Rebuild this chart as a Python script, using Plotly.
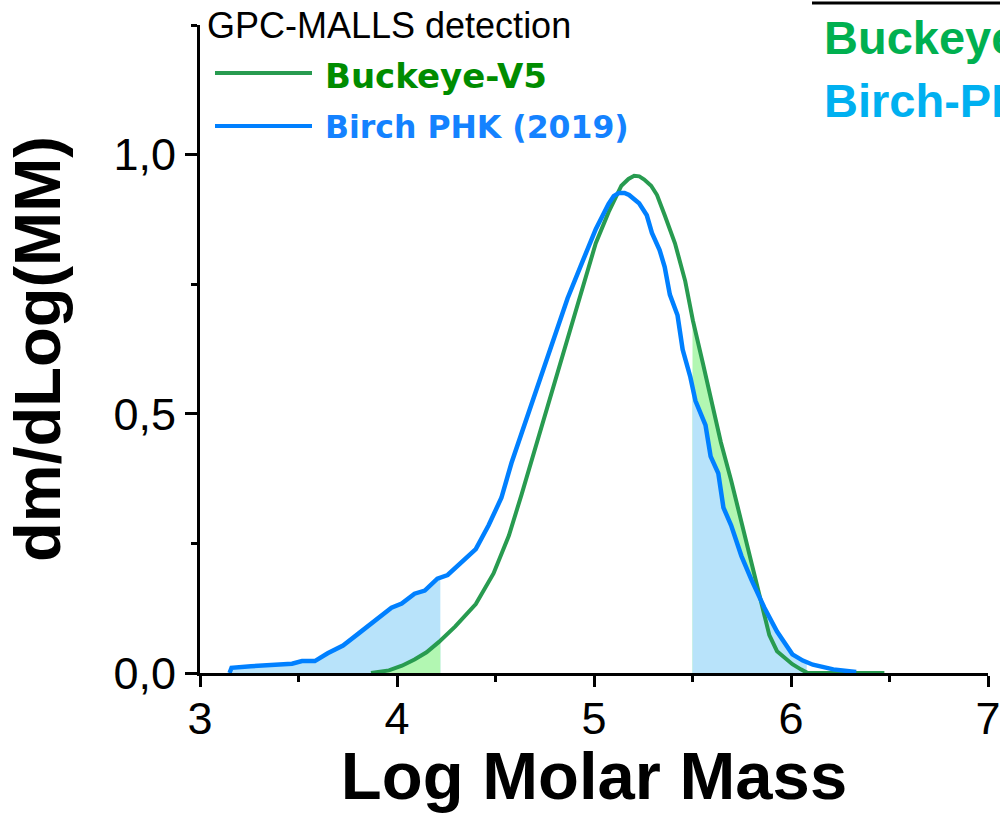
import numpy as np
import plotly.graph_objects as go

# ---------------- data ----------------
buckeye_x = [3.868, 3.959, 4.025, 4.089, 4.150, 4.213, 4.296, 4.40, 4.49, 4.568, 4.633, 4.711,
             4.815, 4.892, 4.957, 5.009, 5.074, 5.139, 5.175, 5.204, 5.230, 5.255, 5.29, 5.32,
             5.359, 5.411, 5.463, 5.502, 5.553, 5.592, 5.644, 5.696, 5.748, 5.80, 5.852,
             5.89, 5.929, 5.97, 6.007, 6.05, 6.085, 6.25, 6.474]
buckeye_y = [0.0, 0.005, 0.014, 0.026, 0.040, 0.060, 0.090, 0.133, 0.192, 0.265, 0.345, 0.445,
             0.577, 0.677, 0.756, 0.829, 0.889, 0.940, 0.953, 0.959, 0.958, 0.952, 0.940, 0.922,
             0.883, 0.829, 0.756, 0.680, 0.597, 0.531, 0.445, 0.372, 0.292, 0.212, 0.139,
             0.073, 0.042, 0.028, 0.017, 0.007, 0.0, 0.0, 0.0]

birch_x = [3.150, 3.160, 3.259, 3.389, 3.467, 3.518, 3.583, 3.648, 3.726, 3.804, 3.894, 3.972,
           4.024, 4.089, 4.141, 4.205, 4.257, 4.322, 4.40, 4.465, 4.53, 4.581, 4.633, 4.711,
           4.789, 4.866, 4.944, 5.009, 5.074, 5.10, 5.126, 5.155, 5.178, 5.229, 5.268, 5.294,
           5.333, 5.359, 5.385, 5.424, 5.45, 5.489, 5.515, 5.566, 5.592, 5.631, 5.657, 5.696,
           5.748, 5.80, 5.865, 5.929, 6.007, 6.06, 6.111, 6.215, 6.331]
birch_y = [0.0, 0.010, 0.013, 0.015, 0.018, 0.023, 0.023, 0.038, 0.053, 0.076, 0.103, 0.126,
           0.134, 0.153, 0.159, 0.182, 0.189, 0.212, 0.239, 0.285, 0.338, 0.405, 0.464, 0.551,
           0.637, 0.723, 0.796, 0.856, 0.905, 0.920, 0.926, 0.926, 0.922, 0.906, 0.883, 0.849,
           0.816, 0.783, 0.730, 0.690, 0.624, 0.571, 0.525, 0.478, 0.418, 0.385, 0.319, 0.285,
           0.226, 0.179, 0.126, 0.080, 0.036, 0.024, 0.016, 0.007, 0.002]

# shaded integration windows (Log Molar Mass)
low_window_end = 4.22
high_window = [5.50, 6.08]

x_ticks = [3, 4, 5, 6, 7]
y_ticks = [0.0, 0.5, 1.0]

legend_title = "GPC-MALLS detection"
name_buckeye = "Buckeye-V5"
name_birch = "Birch PHK (2019)"
side_labels = ["Buckeye-V5", "Birch-PHK"]

# ---------------- styles ----------------
GREEN_LINE = "rgb(40,155,80)"
BLUE_LINE = "rgb(0,128,255)"
GREEN_FILL = "rgb(178,247,178)"
BLUE_FILL = "rgb(184,227,250)"

bx = np.array(buckeye_x); by = np.array(buckeye_y)
rx = np.array(birch_x); ry = np.array(birch_y)


def window(xs, ys, a, b):
    a = max(a, xs[0]); b = min(b, xs[-1])
    inside = (xs > a) & (xs < b)
    wx = np.concatenate([[a], xs[inside], [b]])
    wy = np.interp(wx, xs, ys)
    return wx, wy


fig = go.Figure()

def fill_trace(wx, wy, color):
    fig.add_trace(go.Scatter(x=wx, y=wy, mode="lines", line=dict(width=0, color=color),
                             fill="tozeroy", fillcolor=color, showlegend=False,
                             hoverinfo="skip"))

# left window: blue under, green on top
fill_trace(*window(rx, ry, rx[0], low_window_end), BLUE_FILL)
fill_trace(*window(bx, by, bx[0], low_window_end), GREEN_FILL)
# right window: green under, blue on top
fill_trace(*window(bx, by, high_window[0], high_window[1]), GREEN_FILL)
fill_trace(*window(rx, ry, high_window[0], high_window[1]), BLUE_FILL)

fig.add_trace(go.Scatter(x=bx, y=by, mode="lines", name=name_buckeye,
                         line=dict(color=GREEN_LINE, width=4), showlegend=False))
fig.add_trace(go.Scatter(x=rx, y=ry, mode="lines", name=name_birch,
                         line=dict(color=BLUE_LINE, width=4.5), showlegend=False))

# plot area in pixels: x 200..988, y 25..673
L, R, T, B = 200, 12, 25, 140
W, H = 1000, 813
PW = W - L - R
PH = H - T - B

def px(xp):
    return (xp - L) / PW

def py(yp):
    return (H - B - yp) / PH

AX_FONT = "Liberation Sans, Arial, sans-serif"
LEG_FONT = "DejaVu Sans, Verdana, sans-serif"

annotations = [
    dict(text=legend_title, x=px(205), y=py(25), xref="paper", yref="paper",
         xanchor="left", yanchor="middle", showarrow=False,
         font=dict(family=AX_FONT, size=36, color="black")),
    dict(text=name_buckeye, x=px(323), y=py(76), xref="paper", yref="paper",
         xanchor="left", yanchor="middle", showarrow=False,
         font=dict(family=LEG_FONT, size=34, color="rgb(0,140,0)", weight="bold")),
    dict(text=name_birch, x=px(323), y=py(127), xref="paper", yref="paper",
         xanchor="left", yanchor="middle", showarrow=False,
         font=dict(family=LEG_FONT, size=31.5, color="rgb(20,130,255)", weight="bold")),
    dict(text=side_labels[0], x=px(822), y=py(38), xref="paper", yref="paper",
         xanchor="left", yanchor="middle", showarrow=False,
         font=dict(family=AX_FONT, size=47, color="#00b050", weight="bold")),
    dict(text=side_labels[1], x=px(822), y=py(101), xref="paper", yref="paper",
         xanchor="left", yanchor="middle", showarrow=False,
         font=dict(family=AX_FONT, size=47, color="#00b0f0", weight="bold")),
]

shapes = [
    dict(type="line", xref="paper", yref="paper", x0=px(215), x1=px(312), y0=py(73), y1=py(73),
         line=dict(color=GREEN_LINE, width=4)),
    dict(type="line", xref="paper", yref="paper", x0=px(215), x1=px(312), y0=py(126), y1=py(126),
         line=dict(color=BLUE_LINE, width=4)),
    dict(type="line", xref="paper", yref="paper", x0=px(812), x1=px(1010), y0=py(3), y1=py(3),
         line=dict(color="black", width=3)),
]

fig.update_layout(
    width=W, height=H,
    margin=dict(l=L, r=R, t=T, b=B, autoexpand=False),
    paper_bgcolor="white", plot_bgcolor="white",
    separators=",.",
    showlegend=False,
    annotations=annotations,
    shapes=shapes,
    xaxis=dict(
        range=[3, 7], tickvals=x_ticks, ticks="outside", ticklen=11, tickwidth=3,
        tickcolor="black", showline=True, linewidth=3, linecolor="black",
        showgrid=False, zeroline=False, ticklabeloverflow="allow",
        ticklabelstandoff=-7,
        minor=dict(dtick=0.5, tick0=3, ticks="outside", ticklen=6, tickwidth=3,
                   tickcolor="black", showgrid=False),
        tickfont=dict(family=AX_FONT, size=45, color="black"),
        title=dict(text="Log Molar Mass", standoff=12,
                   font=dict(family=AX_FONT, size=67, color="black", weight="bold")),
        automargin=False,
    ),
    yaxis=dict(
        range=[0, 1.25], tickvals=y_ticks, tickformat=".1f", ticks="outside", ticklen=12,
        tickwidth=3, tickcolor="black", showline=True, linewidth=3, linecolor="black",
        showgrid=False, zeroline=False,
        minor=dict(dtick=0.25, tick0=0, ticks="outside", ticklen=6, tickwidth=3,
                   tickcolor="black", showgrid=False),
        tickfont=dict(family=AX_FONT, size=45, color="black"),
        title=dict(text="dm/dLog(MM)", standoff=32,
                   font=dict(family=AX_FONT, size=65, color="black", weight="bold")),
        automargin=False,
    ),
)

fig.write_html("out.html")
